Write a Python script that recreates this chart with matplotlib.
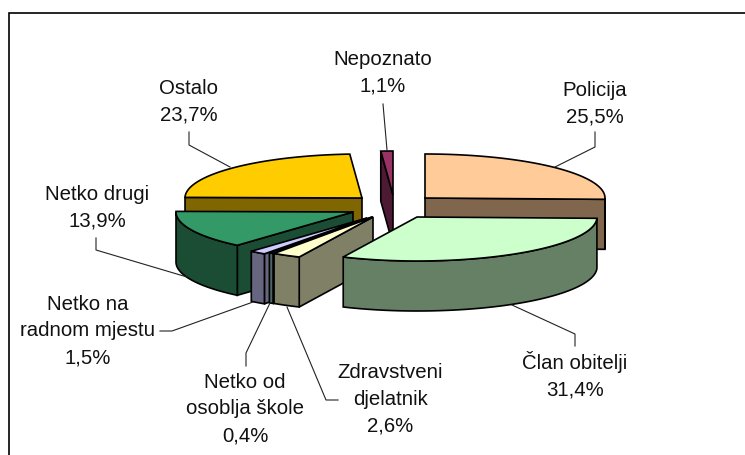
import numpy as np
import matplotlib
matplotlib.use("Agg")
import matplotlib.pyplot as plt
from matplotlib.colors import to_rgb

plt.rcParams["font.family"] = ["Liberation Sans", "DejaVu Sans"]

# slices, clockwise from 12 o'clock
names = ["Policija", "Član obitelji", "Zdravstveni\ndjelatnik", "Netko od\nosoblja škole",
         "Netko na\nradnom mjestu", "Netko drugi", "Ostalo", "Nepoznato"]
values = [25.5, 31.4, 2.6, 0.4, 1.5, 13.9, 23.7, 1.1]
colors = ["#FFCC99", "#CCFFCC", "#FFFFCC", "#99CCCC", "#CCCCFF", "#339966", "#FFCC00", "#993366"]

# exploded position of each slice tip, in pixels
tip_x = [425, 417, 373, 372, 367, 353, 362, 393]
tip_y = [198, 217, 217, 217, 218, 212, 198, 195]

# back to front
draw_order = [0, 6, 7, 5, 4, 3, 2, 1]

# label centres and leader lines, in pixels
label_x = [595, 575, 390, 245, 88, 97, 189, 383]
label_y = [104, 375, 399.5, 409, 331, 208, 102, 73]
leaders = [
    [(555, 167), (595, 147), (595, 132)],
    [(512, 305), (575, 334), (575, 346)],
    [(287, 307), (326, 400), (338, 400)],
    [(270, 303), (246, 353), (246, 366)],
    [(253, 302), (172, 331), (160, 331)],
    [(187, 277), (96, 250), (96, 238)],
    [(230, 167), (189, 145), (189, 132)],
    [(387, 150), (383, 104)],
]

RX_RIGHT, RX_LEFT, RY, DEPTH = 180, 177, 44, 50
EDGE = 1.2


def rim_point(i, deg):
    a = np.radians(deg)
    rx = RX_RIGHT if np.sin(a) > 0 else RX_LEFT
    return tip_x[i] + rx * np.sin(a), tip_y[i] - RY * np.cos(a)


def arc(i, a0, a1):
    n = max(2, int(abs(a1 - a0)) + 2)
    return [rim_point(i, d) for d in np.linspace(a0, a1, n)]


def shade(c):
    return tuple(v * 0.5 for v in to_rgb(c))


def poly(ax, pts, color):
    ax.fill(*zip(*pts), facecolor=color, edgecolor="black", lw=EDGE, joinstyle="miter")


def draw_slice(ax, i, a0, a1):
    side = shade(colors[i])
    tip = (tip_x[i], tip_y[i])
    down = lambda p: (p[0], p[1] + DEPTH)

    # cut faces turned towards the viewer
    if 180 < a0 < 360:
        p = rim_point(i, a0)
        poly(ax, [tip, p, down(p), down(tip)], side)
    if 0 < a1 < 180:
        p = rim_point(i, a1)
        poly(ax, [tip, p, down(p), down(tip)], side)

    # outer wall, front half only
    lo, hi = max(a0, 90), min(a1, 270)
    if hi > lo:
        top_edge = arc(i, lo, hi)
        poly(ax, top_edge + [down(p) for p in reversed(top_edge)], side)

    poly(ax, [tip] + arc(i, a0, a1), colors[i])


fig = plt.figure(figsize=(7.45, 4.55), dpi=100)
ax = fig.add_axes([0, 0, 1, 1])
ax.set_xlim(0, 745)
ax.set_ylim(455, 0)
ax.axis("off")

# chart frame runs off the right and bottom of the picture
ax.plot([9, 9, 745], [455, 12.5, 12.5], color="black", lw=1.2, solid_joinstyle="miter")

ends = np.cumsum(values) / sum(values) * 360
starts = np.concatenate([[0], ends[:-1]])

for pts in leaders:
    ax.plot(*zip(*pts), color="#222222", lw=0.8)

for i in draw_order:
    draw_slice(ax, i, starts[i], ends[i])

for i, name in enumerate(names):
    pct = f"{values[i]:.1f}".replace(".", ",") + "%"
    ax.text(label_x[i], label_y[i], f"{name}\n{pct}", ha="center", va="center",
            fontsize=14.7, color="#111111", linespacing=1.5)

plt.savefig("out.png", dpi=100)
